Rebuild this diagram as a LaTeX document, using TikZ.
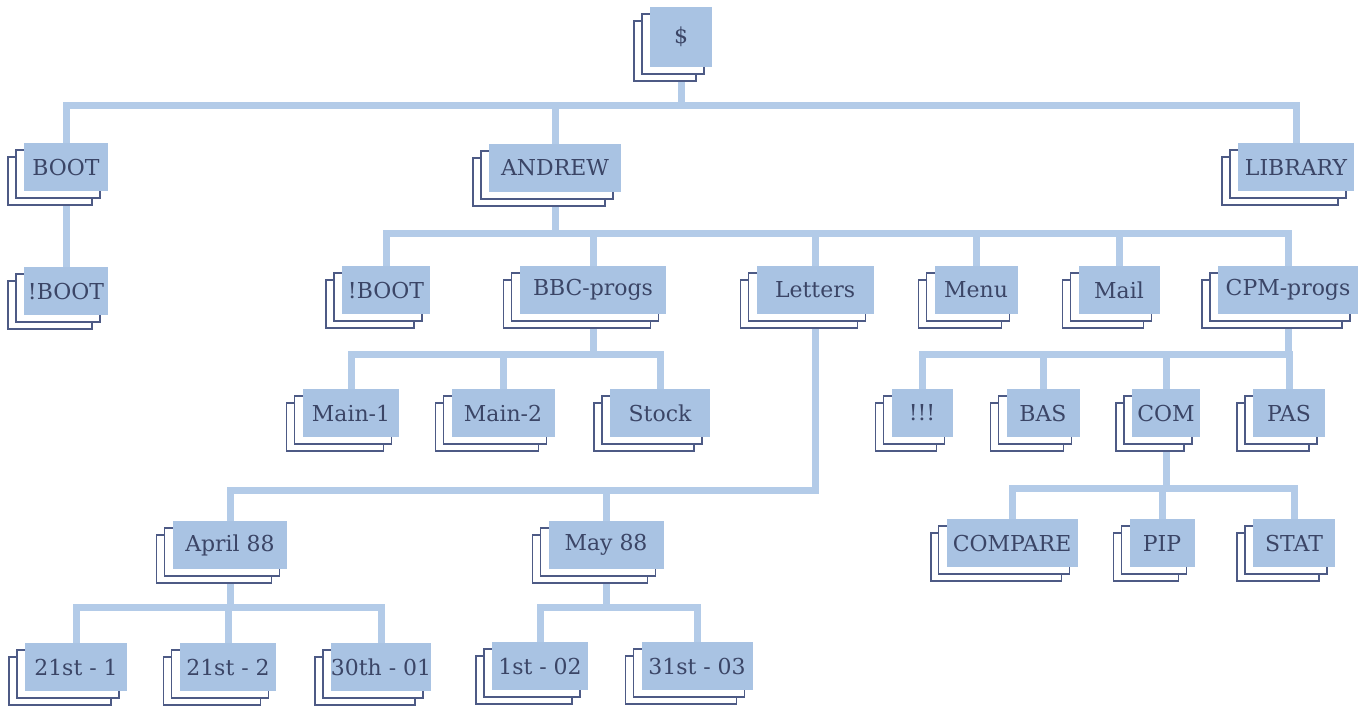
\documentclass[tikz,border=0pt]{standalone}
\usepackage{fontspec}
\setmainfont{DejaVu Serif}
\usetikzlibrary{shadows,backgrounds}
\definecolor{boxblue}{HTML}{A9C3E3}
\definecolor{linkblue}{HTML}{B3CBE8}
\definecolor{edgeblue}{HTML}{4D5A85}
\definecolor{inkblue}{HTML}{3B4566}

\begin{document}
\begin{tikzpicture}[x=0.02cm, y=-0.02cm,
	folder/.style={fill=boxblue, text=inkblue, minimum height=0.96cm, inner sep=0pt,
		font=\fontsize{12.5}{14}\selectfont,
		copy shadow={shadow xshift=-0.32cm, shadow yshift=-0.28cm, fill=white, draw=edgeblue, line width=1.1pt},
		copy shadow={shadow xshift=-0.16cm, shadow yshift=-0.14cm, fill=white, draw=edgeblue, line width=1.1pt}},
	link/.style={draw=linkblue, line width=0.14cm}]
	\useasboundingbox (0,0) rectangle (1364,708);

	\node[folder, minimum width=1.24cm, minimum height=1.2cm] (dollar) at (681,37) {\$};
	\node[folder, minimum width=1.68cm] (boot) at (66,167) {BOOT};
	\node[folder, minimum width=2.64cm] (andrew) at (555,168) {ANDREW};
	\node[folder, minimum width=2.32cm] (lib) at (1296,167) {LIBRARY};
	\node[folder, minimum width=1.68cm] (bboot) at (66,291) {!BOOT};

	\node[folder, minimum width=1.76cm] (aboot) at (386,290) {!BOOT};
	\node[folder, minimum width=2.94cm] (bbc) at (593,290) {BBC-progs};
	\node[folder, minimum width=2.34cm] (letters) at (815,290) {Letters};
	\node[folder, minimum width=1.66cm] (menu) at (976,290) {Menu};
	\node[folder, minimum width=1.62cm] (mail) at (1119,290) {Mail};
	\node[folder, minimum width=2.8cm] (cpm) at (1288,290) {CPM-progs};

	\node[folder, minimum width=1.94cm] (main1) at (351,413) {Main-1};
	\node[folder, minimum width=2.06cm] (main2) at (503,413) {Main-2};
	\node[folder, minimum width=2.0cm] (stock) at (660,413) {Stock};
	\node[folder, minimum width=1.22cm] (bang) at (922,413) {!!!};
	\node[folder, minimum width=1.46cm] (bas) at (1043,413) {BAS};
	\node[folder, minimum width=1.36cm] (com) at (1166,413) {COM};
	\node[folder, minimum width=1.44cm] (pas) at (1289,413) {PAS};

	\node[folder, minimum width=2.3cm] (april) at (230,545) {April 88};
	\node[folder, minimum width=2.3cm] (may) at (606,545) {May 88};
	\node[folder, minimum width=2.62cm] (compare) at (1012,543) {COMPARE};
	\node[folder, minimum width=1.3cm] (pip) at (1162,543) {PIP};
	\node[folder, minimum width=1.64cm] (stat) at (1294,543) {STAT};

	\node[folder, minimum width=2.04cm] (d211) at (76,667) {21st - 1};
	\node[folder, minimum width=1.94cm] (d212) at (228,667) {21st - 2};
	\node[folder, minimum width=1.96cm] (d3001) at (381,667) {30th - 01};
	\node[folder, minimum width=1.92cm] (d102) at (540,666) {1st - 02};
	\node[folder, minimum width=2.22cm] (d3103) at (697,666) {31st - 03};

	\coordinate (topbus) at (0,105);
	\coordinate (andrewbus) at (0,233);
	\coordinate (bbcbus) at (0,354);
	\coordinate (cpmbus) at (0,354);
	\coordinate (letterbus) at (0,490);
	\coordinate (combus) at (0,488);
	\coordinate (aprilbus) at (0,607);
	\coordinate (maybus) at (0,607);

	\begin{pgfonlayer}{background}
	% root
	\path[link] (boot.north) |- (topbus -| lib.north) -- (lib.north);
	\path[link] (dollar.south) -- (dollar.south |- topbus);
	\path[link] (andrew.north) -- (andrew.north |- topbus);
	\path[link] (boot.south) -- (bboot.north);
	% ANDREW
	\path[link] (aboot.north) |- (andrewbus -| cpm.north) -- (cpm.north);
	\path[link] (andrew.south) -- (andrew.south |- andrewbus);
	\foreach \n in {bbc,letters,menu,mail}
		\path[link] (\n.north) -- (\n.north |- andrewbus);
	% BBC-progs
	\path[link] (main1.north) |- (bbcbus -| stock.north) -- (stock.north);
	\path[link] (bbc.south) -- (bbc.south |- bbcbus);
	\path[link] (main2.north) -- (main2.north |- bbcbus);
	% CPM-progs
	\path[link] (bang.north) |- (cpmbus -| pas.north) -- (pas.north);
	\path[link] (cpm.south) -- (cpm.south |- cpmbus);
	\path[link] (bas.north) -- (bas.north |- cpmbus);
	\path[link] (com.north) -- (com.north |- cpmbus);
	% COM
	\path[link] (compare.north) |- (combus -| stat.north) -- (stat.north);
	\path[link] (com.south) -- (com.south |- combus);
	\path[link] (pip.north) -- (pip.north |- combus);
	% Letters
	\path[link] (april.north) |- (letterbus -| letters.south) -- (letters.south);
	\path[link] (may.north) -- (may.north |- letterbus);
	% April 88
	\path[link] (d211.north) |- (aprilbus -| d3001.north) -- (d3001.north);
	\path[link] (april.south) -- (april.south |- aprilbus);
	\path[link] (d212.north) -- (d212.north |- aprilbus);
	% May 88
	\path[link] (d102.north) |- (maybus -| d3103.north) -- (d3103.north);
	\path[link] (may.south) -- (may.south |- maybus);
	\end{pgfonlayer}
\end{tikzpicture}
\end{document}
